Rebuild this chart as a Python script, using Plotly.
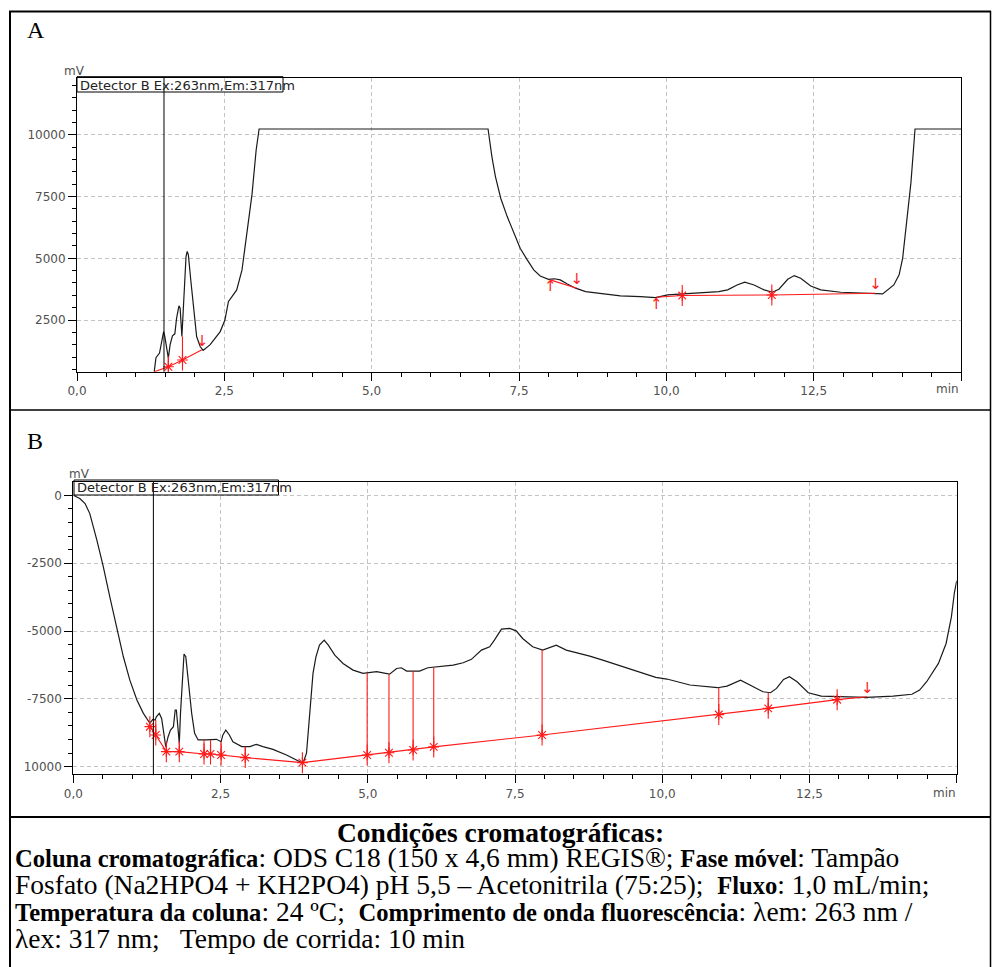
import plotly.graph_objects as go

# ---------------- Panel A : chromatogram (min, mV) ----------------
a_time = [1.31, 1.34, 1.40, 1.47, 1.49, 1.55, 1.58, 1.62, 1.66, 1.69, 1.73, 1.75, 1.78,
          1.82, 1.85, 1.87, 1.89, 1.93, 1.98, 2.03, 2.09, 2.14, 2.26, 2.43, 2.51, 2.57,
          2.63, 2.71, 2.80, 2.88, 2.97, 3.04, 3.09, 6.975, 7.00, 7.04, 7.10, 7.19, 7.30,
          7.41, 7.52, 7.64, 7.75, 7.86, 8.00, 8.10, 8.20, 8.32, 8.46, 8.63, 8.83, 9.22,
          9.56, 9.82, 10.02, 10.30, 10.58, 10.89, 11.04, 11.20, 11.33, 11.49, 11.66,
          11.80, 11.91, 12.06, 12.17, 12.28, 12.45, 12.62, 12.96, 13.41, 13.67, 13.86,
          13.95, 14.01, 14.06, 14.12, 14.15, 14.18, 14.21, 14.22, 15.0]
a_mv = [400, 970, 1160, 2030, 1830, 955, 1500, 1860, 1940, 2575, 3075, 2980, 1830,
        3855, 5070, 5275, 5140, 4130, 2910, 1830, 1425, 1265, 1500, 2030, 2500, 3250,
        3450, 3720, 4530, 5880, 7600, 9390, 10240, 10240, 9797, 9120, 8310, 7435, 6690,
        6015, 5405, 4935, 4530, 4285, 4150, 4170, 4125, 3960, 3790, 3650, 3585, 3475,
        3450, 3410, 3515, 3555, 3585, 3650, 3720, 3920, 4030, 3920, 3720,
        3625, 3745, 4150, 4300, 4190, 3880, 3720, 3625, 3585, 3555, 3920,
        4330, 5005, 6015, 7366, 8055, 8985, 10134, 10240, 10240]

# Panel A integration baselines
a_base1_time = [1.31, 1.55, 1.79, 2.12]
a_base1_mv = [400, 605, 880, 1290]
a_base2_time = [8.03, 8.48]
a_base2_mv = [4125, 3790]
a_base3_time = [9.83, 10.27, 11.79, 13.55]
a_base3_mv = [3420, 3490, 3515, 3585]
a_drop_time = [1.55, 1.79]
a_drop_top = [955, 1830]
a_drop_bottom = [605, 880]
a_star_time = [1.55, 1.79, 10.27, 11.79]
a_star_mv = [605, 880, 3490, 3515]
a_up_time = [8.03, 9.83]
a_up_mv = [4125, 3420]
a_down_time = [2.12, 8.48, 13.55]
a_down_mv = [1290, 3790, 3585]
a_inject_time = 1.476

# ---------------- Panel B : chromatogram (min, mV) ----------------
b_time = [0.0, 0.11, 0.20, 0.28, 0.40, 0.51, 0.62, 0.74, 0.85, 0.96, 1.08, 1.19, 1.30,
          1.35, 1.39, 1.41, 1.46, 1.50, 1.54, 1.57, 1.61, 1.65, 1.70, 1.73, 1.75, 1.78,
          1.80, 1.82, 1.85, 1.88, 1.91, 1.95, 2.01, 2.06, 2.12, 2.26, 2.43, 2.51, 2.54,
          2.59, 2.65, 2.71, 2.86, 3.00, 3.11, 3.22, 3.39, 3.62, 3.85, 3.90, 3.96, 4.02,
          4.07, 4.12, 4.18, 4.26, 4.33, 4.44, 4.58, 4.75, 4.92, 5.15, 5.37, 5.49, 5.57,
          5.66, 5.88, 6.02, 6.22, 6.45, 6.62, 6.76, 6.93, 7.07, 7.15, 7.27, 7.41, 7.52,
          7.63, 7.80, 7.97, 8.09, 8.20, 8.37, 8.60, 8.77, 8.99, 9.51, 9.89, 10.08, 10.47,
          10.94, 11.10, 11.33, 11.49, 11.71, 11.84, 11.94, 12.06, 12.16, 12.29, 12.48,
          12.70, 12.96, 13.47, 13.92, 14.24, 14.37, 14.49, 14.69, 14.82, 14.91, 14.96, 15.0]
b_mv = [0, -120, -305, -675, -1655, -2640, -3745, -4850, -5950, -6810, -7545, -8035, -8400,
        -8255, -8280, -8160, -8035, -8220, -8895, -9260, -8895, -8650, -8525, -7910, -7910, -8770,
        -9140, -8035, -6685, -5850, -5950, -6810, -8035, -8770, -9015, -9015, -8990, -9080, -8830,
        -8650, -8830, -9080, -9260, -9260, -9175, -9260, -9360, -9570, -9815, -9875, -9500, -7790,
        -6560, -5950, -5520, -5335, -5520, -5890, -6195, -6440, -6560, -6500, -6590, -6380, -6355,
        -6475, -6475, -6355, -6320, -6255, -6170, -6045, -5705, -5580, -5335, -4930, -4905, -4995,
        -5275, -5580, -5705, -5620, -5520, -5705, -5830, -5925, -6075, -6440, -6710, -6770, -6990,
        -7090, -7030, -6810, -6990, -7240, -7275, -7115, -6785, -6685, -6870, -7275,
        -7400, -7420, -7445, -7400, -7330, -7175, -6870, -6195, -5460, -4480, -3600, -3150]

b_base_time = [1.30, 1.40, 1.58, 1.80, 2.22, 2.33, 2.51, 2.92, 3.89, 4.99, 5.36, 5.77,
               6.12, 7.96, 10.96, 11.80, 12.97, 13.48]
b_base_mv = [-8525, -8830, -9445, -9445, -9530, -9530, -9570, -9665, -9850, -9570, -9485,
             -9385, -9270, -8830, -8080, -7850, -7530, -7420]
b_drop_time = [1.40, 1.58, 1.80, 2.22, 2.33, 2.51, 2.92, 4.99, 5.36, 5.77, 6.12, 7.96, 10.96, 11.80]
b_drop_top = [-8280, -9260, -9140, -9015, -9015, -9080, -9260, -6560, -6590, -6475, -6355,
              -5690, -7090, -7275]
b_drop_bottom = [-8830, -9445, -9445, -9530, -9530, -9570, -9665, -9570, -9485, -9385, -9270,
                 -8830, -8080, -7850]
b_star_time = b_base_time[:-1]
b_star_mv = b_base_mv[:-1]
b_down_time = [13.48]
b_down_mv = [-7420]
b_inject_time = 1.36

# axis ticks
x_tick_vals = [0, 2.5, 5.0, 7.5, 10.0, 12.5, 15.0]
x_tick_text = ["0,0", "2,5", "5,0", "7,5", "10,0", "12,5", ""]
a_y_tick_vals = [2500, 5000, 7500, 10000]
a_y_tick_text = ["2500", "5000", "7500", "10000"]
b_y_tick_vals = [-10000, -7500, -5000, -2500, 0]
b_y_tick_text = ["10000", "-7500", "-5000", "-2500", "0"]

detector_label = "Detector B Ex:263nm,Em:317nm"

BOLD = "<b><span style='font-size:24.6px'>{}</span></b>"
caption_title = "<b>Condições cromatográficas:</b>"
caption_lines = [
    BOLD.format("Coluna cromatográfica") + ": ODS C18 (150 x 4,6 mm) REGIS®; "
    + BOLD.format("Fase móvel") + ": Tampão",
    "Fosfato (Na2HPO4 + KH2PO4) pH 5,5 – Acetonitrila (75:25);\u00a0 "
    + BOLD.format("Fluxo") + ": 1,0 mL/min;",
    BOLD.format("Temperatura da coluna") + ": 24 ºC;\u00a0 "
    + BOLD.format("Comprimento de onda fluorescência") + ": λem: 263 nm /",
    "λex: 317 nm;\u00a0\u00a0 Tempo de corrida: 10 min",
]

# ---------------- geometry helpers ----------------
W, H = 992, 967


def px(x):
    return x / W


def py(y):
    return 1 - y / H


RED = "#ff1a1a"
TICKFONT = dict(family="DejaVu Sans", size=12, color="#505050")

fig = go.Figure()


def add_panel(xa, ya, t, v, bases, drop_t, drop_top, drop_bot, star_t, star_v,
              up_t, up_v, down_t, down_v):
    fig.add_trace(go.Scatter(x=t, y=v, mode="lines", xaxis=xa, yaxis=ya,
                             line=dict(color="#1a1a1a", width=1.2), hoverinfo="skip"))
    for bt, bv in bases:
        fig.add_trace(go.Scatter(x=bt, y=bv, mode="lines", xaxis=xa, yaxis=ya,
                                 line=dict(color=RED, width=1.1), hoverinfo="skip"))
    dx, dy = [], []
    for tt, top, bot in zip(drop_t, drop_top, drop_bot):
        dx += [tt, tt, None]
        dy += [top, bot, None]
    fig.add_trace(go.Scatter(x=dx, y=dy, mode="lines", xaxis=xa, yaxis=ya,
                             line=dict(color=RED, width=1.1), hoverinfo="skip"))
    fig.add_trace(go.Scatter(x=star_t, y=star_v, mode="markers", xaxis=xa, yaxis=ya,
                             marker=dict(symbol="asterisk-open", size=9, color=RED,
                                         line=dict(color=RED, width=1.1)),
                             hoverinfo="skip"))
    fig.add_trace(go.Scatter(x=star_t, y=star_v, mode="markers", xaxis=xa, yaxis=ya,
                             marker=dict(symbol="line-ns-open", size=15, color=RED,
                                         line=dict(color=RED, width=1.1)),
                             hoverinfo="skip"))
    if up_t:
        fig.add_trace(go.Scatter(x=up_t, y=up_v, mode="text", xaxis=xa, yaxis=ya,
                                 text=["↑"] * len(up_t), textposition="bottom center",
                                 textfont=dict(family="DejaVu Sans", size=15, color=RED),
                                 hoverinfo="skip"))
    if down_t:
        fig.add_trace(go.Scatter(x=down_t, y=down_v, mode="text", xaxis=xa, yaxis=ya,
                                 text=["↓"] * len(down_t), textposition="top center",
                                 textfont=dict(family="DejaVu Sans", size=15, color=RED),
                                 hoverinfo="skip"))


add_panel("x", "y", a_time, a_mv,
          [(a_base1_time, a_base1_mv), (a_base2_time, a_base2_mv), (a_base3_time, a_base3_mv)],
          a_drop_time, a_drop_top, a_drop_bottom, a_star_time, a_star_mv,
          a_up_time, a_up_mv, a_down_time, a_down_mv)
add_panel("x2", "y2", b_time, b_mv, [(b_base_time, b_base_mv)],
          b_drop_time, b_drop_top, b_drop_bottom, b_star_time, b_star_mv,
          [], [], b_down_time, b_down_mv)


def xaxis_cfg(domain, anchor):
    return dict(domain=domain, anchor=anchor, range=[0, 15], tickmode="array",
                tickvals=x_tick_vals, ticktext=x_tick_text, ticks="outside", ticklen=8,
                tickwidth=1, tickcolor="black", showline=True, linecolor="black",
                linewidth=1, mirror=True, showgrid=True, gridcolor="#c4c4c4",
                griddash="4px,3px", gridwidth=1, zeroline=False, tickfont=TICKFONT,
                minor=dict(tickmode="linear", tick0=0, dtick=0.5, ticklen=4,
                           tickcolor="black", ticks="outside", showgrid=False),
                automargin=False, fixedrange=True)


def yaxis_cfg(domain, anchor, rng, vals, text):
    return dict(domain=domain, anchor=anchor, range=rng, tickmode="array",
                tickvals=vals, ticktext=text, ticks="outside", ticklen=8, tickwidth=1,
                tickcolor="black", showline=True, linecolor="black", linewidth=1,
                mirror=True, showgrid=True, gridcolor="#c4c4c4", griddash="4px,3px",
                gridwidth=1, zeroline=False, tickfont=TICKFONT, ticklabelstandoff=0,
                minor=dict(tickmode="linear", tick0=0, dtick=500, ticklen=4,
                           tickcolor="black", ticks="outside", showgrid=False),
                automargin=False, fixedrange=True)


fig.update_layout(
    width=W, height=H, margin=dict(l=0, r=0, t=0, b=0, autoexpand=False),
    paper_bgcolor="white", plot_bgcolor="white", showlegend=False,
    xaxis=xaxis_cfg([px(77), px(961)], "y"),
    yaxis=yaxis_cfg([py(371.7), py(77.7)], "x", [405, 12318], a_y_tick_vals, a_y_tick_text),
    xaxis2=xaxis_cfg([px(73.3), px(956.7)], "y2"),
    yaxis2=yaxis_cfg([py(774.3), py(482)], "x2", [-10280, 490], b_y_tick_vals, b_y_tick_text),
)

shapes = []
# injection marker lines
shapes.append(dict(type="line", xref="x", yref="y domain", x0=a_inject_time, x1=a_inject_time,
                   y0=0, y1=1, line=dict(color="black", width=1)))
shapes.append(dict(type="line", xref="x2", yref="y2 domain", x0=b_inject_time, x1=b_inject_time,
                   y0=-0.003, y1=1, line=dict(color="black", width=1)))
# detector label boxes
for (x0, y0, x1, y1) in [(77, 76.7, 283, 92), (74, 480, 278.5, 495)]:
    shapes.append(dict(type="rect", xref="paper", yref="paper", x0=px(x0), x1=px(x1),
                       y0=py(y1), y1=py(y0), line=dict(color="black", width=1)))
# outer table frame
frame = [
    (10, 11, 10, 967, 2), (9, 11.5, 991, 11.5, 2), (990.5, 11, 990.5, 967, 1.5),
    (9, 410, 991, 410, 1.5), (9, 817, 991, 817, 2),
]
for (x0, y0, x1, y1, w) in frame:
    shapes.append(dict(type="line", xref="paper", yref="paper", x0=px(x0), x1=px(x1),
                       y0=py(y0), y1=py(y1), line=dict(color="black", width=w)))
fig.update_layout(shapes=shapes)

ann = []
ann.append(dict(text="A", x=px(25), y=py(30), xanchor="left", yanchor="middle",
                font=dict(family="Liberation Serif", size=24, color="black")))
ann.append(dict(text="B", x=px(25), y=py(441), xanchor="left", yanchor="middle",
                font=dict(family="Liberation Serif", size=24, color="black")))
for (x, y) in [(74.5, 71), (79.5, 473.5)]:
    ann.append(dict(text="mV", x=px(x), y=py(y), xanchor="center", yanchor="middle",
                    font=TICKFONT))
for (x, y) in [(961, 389), (957.7, 792.5)]:
    ann.append(dict(text="min", x=px(x), y=py(y), xanchor="right", yanchor="middle",
                    font=TICKFONT))
for (x, y) in [(78, 85), (75, 487.5)]:
    ann.append(dict(text=detector_label, x=px(x), y=py(y), xanchor="left", yanchor="middle",
                    font=dict(family="DejaVu Sans", size=13, color="#222")))
ann.append(dict(text=caption_title, x=px(500), y=py(832), xanchor="center",
                yanchor="middle",
                font=dict(family="Liberation Serif", size=27.5, color="black")))
cap_y = [857, 884, 911, 938]
for i, line in enumerate(caption_lines):
    ann.append(dict(text=line, x=px(13), y=py(cap_y[i]), xanchor="left",
                    yanchor="middle", align="left",
                    font=dict(family="Liberation Serif", size=27.5, color="black")))
for a in ann:
    a.update(xref="paper", yref="paper", showarrow=False)
fig.update_layout(annotations=ann)

fig.write_html("out.html", config={"displayModeBar": False},
               post_script="document.body.style.margin='0';document.body.style.overflow='hidden';")
